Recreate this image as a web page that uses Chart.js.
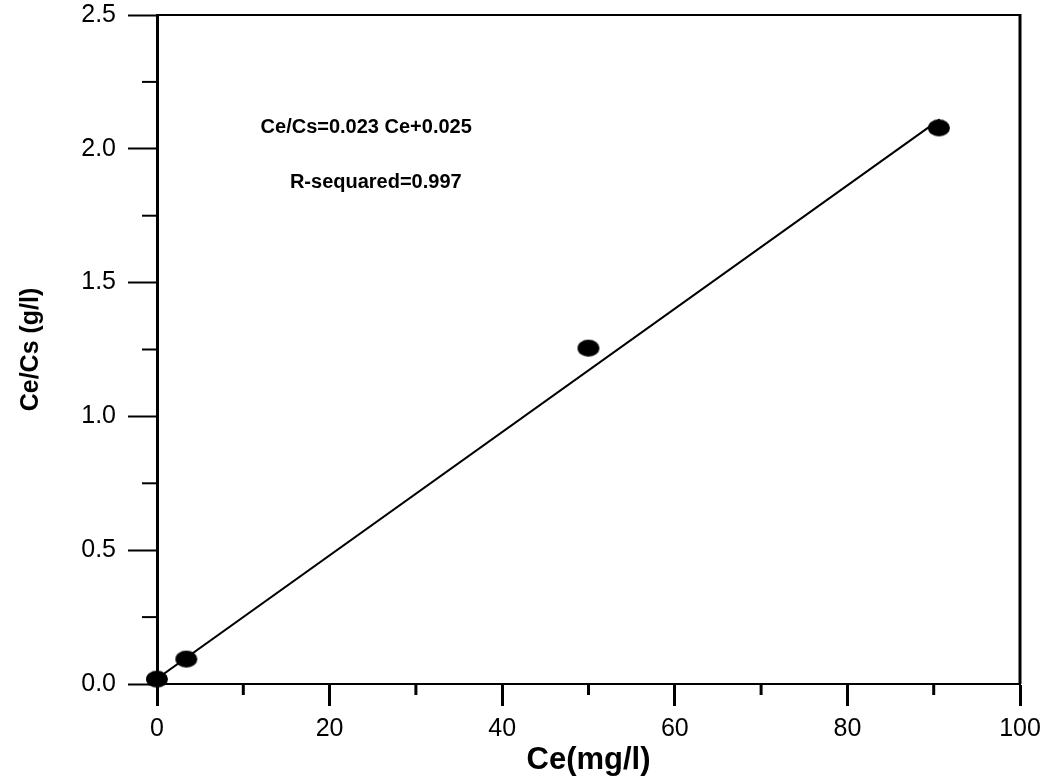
<!DOCTYPE html>
<html>
<head>
<meta charset="utf-8">
<script src="https://cdn.jsdelivr.net/npm/chart.js@4.4.0/dist/chart.umd.min.js"></script>
<style>
  html, body { margin: 0; padding: 0; background: #fff; }
  #box { width: 1052px; height: 776px; }
</style>
</head>
<body>
<div id="box"><canvas id="chart"></canvas></div>
<script>
// measured points
const ce = [0, 3.4, 50, 90.6];
const ceCs = [0.018, 0.093, 1.255, 2.078];

// fitted line end points
const fitCe = [0, 90.7];
const fitCeCs = [0.02, 2.11];

const xTicks = [0, 20, 40, 60, 80, 100];
const yTicks = [0.0, 0.5, 1.0, 1.5, 2.0, 2.5];
const xMinor = [10, 30, 50, 70, 90];
const yMinor = [0.25, 0.75, 1.25, 1.75, 2.25];

const equation = 'Ce/Cs=0.023 Ce+0.025';
const rSquared = 'R-sequared=0.997';

// black ellipse marker, a bit wider than tall
const dot = document.createElement('canvas');
dot.width = 24;
dot.height = 19;
const dctx = dot.getContext('2d');
dctx.fillStyle = '#000';
dctx.beginPath();
dctx.ellipse(12, 9.5, 11, 8.5, 0, 0, Math.PI * 2);
dctx.fill();

const frame = {
    id: 'frame',
    afterDraw(chart) {
        const { ctx, chartArea: a, scales: { x, y } } = chart;
        ctx.save();
        ctx.strokeStyle = '#000';
        // top + right edges
        ctx.lineWidth = 2;
        ctx.beginPath();
        ctx.moveTo(a.left, a.top);
        ctx.lineTo(a.right, a.top);
        ctx.stroke();
        ctx.lineWidth = 3;
        ctx.beginPath();
        ctx.moveTo(a.right, a.top - 1);
        ctx.lineTo(a.right, a.bottom);
        ctx.stroke();
        // minor ticks
        ctx.lineWidth = 3;
        xMinor.forEach(v => {
            const px = x.getPixelForValue(v);
            ctx.beginPath();
            ctx.moveTo(px, a.bottom);
            ctx.lineTo(px, a.bottom + 11);
            ctx.stroke();
        });
        ctx.lineWidth = 2;
        yMinor.forEach(v => {
            const py = y.getPixelForValue(v);
            ctx.beginPath();
            ctx.moveTo(a.left, py);
            ctx.lineTo(a.left - 15, py);
            ctx.stroke();
        });
        // equation text
        ctx.fillStyle = '#000';
        ctx.font = 'bold 20px "Liberation Sans", Arial, sans-serif';
        ctx.textBaseline = 'middle';
        ctx.textAlign = 'left';
        ctx.fillText(equation, x.getPixelForValue(12), y.getPixelForValue(2.08));
        ctx.fillText(rSquared, x.getPixelForValue(15.4), y.getPixelForValue(1.875));
        ctx.restore();
    }
};

new Chart(document.getElementById('chart'), {
    type: 'scatter',
    data: {
        datasets: [
            {
                label: 'fit',
                data: fitCe.map((v, i) => ({ x: v, y: fitCeCs[i] })),
                showLine: true,
                borderColor: '#000',
                borderWidth: 2,
                pointRadius: 0,
                order: 2
            },
            {
                label: 'data',
                data: ce.map((v, i) => ({ x: v, y: ceCs[i] })),
                pointStyle: dot,
                backgroundColor: '#000',
                clip: false,
                order: 1
            }
        ]
    },
    options: {
        responsive: true,
        maintainAspectRatio: false,
        animation: false,
        layout: { padding: { top: 15, right: 32, left: 0, bottom: 0 } },
        plugins: {
            legend: { display: false },
            tooltip: { enabled: false }
        },
        scales: {
            x: {
                type: 'linear',
                min: 0,
                max: 100,
                afterFit: s => {
                    s.height = 92;
                    s.paddingLeft = 0;
                    s.paddingRight = 0;
                },
                afterBuildTicks: s => { s.ticks = xTicks.map(v => ({ value: v })); },
                ticks: {
                    color: '#000',
                    padding: 8,
                    font: { family: '"Liberation Sans", Arial, sans-serif', size: 25 }
                },
                grid: {
                    drawOnChartArea: false,
                    tickLength: 22,
                    tickWidth: 3,
                    tickColor: '#000'
                },
                border: { color: '#000', width: 2 },
                title: {
                    display: true,
                    text: 'Ce(mg/l)',
                    color: '#000',
                    padding: { top: 0, bottom: 0 },
                    font: { family: '"Liberation Sans", Arial, sans-serif', size: 31, weight: 'bold', lineHeight: 1 }
                }
            },
            y: {
                type: 'linear',
                min: 0,
                max: 2.5,
                afterFit: s => {
                    s.width = 157;
                    s.paddingTop = 0;
                    s.paddingBottom = 0;
                },
                afterBuildTicks: s => { s.ticks = yTicks.map(v => ({ value: v })); },
                ticks: {
                    color: '#000',
                    padding: 12,
                    callback: v => v.toFixed(1),
                    font: { family: '"Liberation Sans", Arial, sans-serif', size: 25 }
                },
                grid: {
                    drawOnChartArea: false,
                    tickLength: 29,
                    tickWidth: 2,
                    tickColor: '#000'
                },
                border: { color: '#000', width: 3 },
                title: {
                    display: true,
                    text: 'Ce/Cs (g/l)',
                    color: '#000',
                    padding: { top: 16, bottom: 0 },
                    font: { family: '"Liberation Sans", Arial, sans-serif', size: 25, weight: 'bold', lineHeight: 1.2 }
                }
            }
        }
    },
    plugins: [frame]
});
</script>
</body>
</html>
